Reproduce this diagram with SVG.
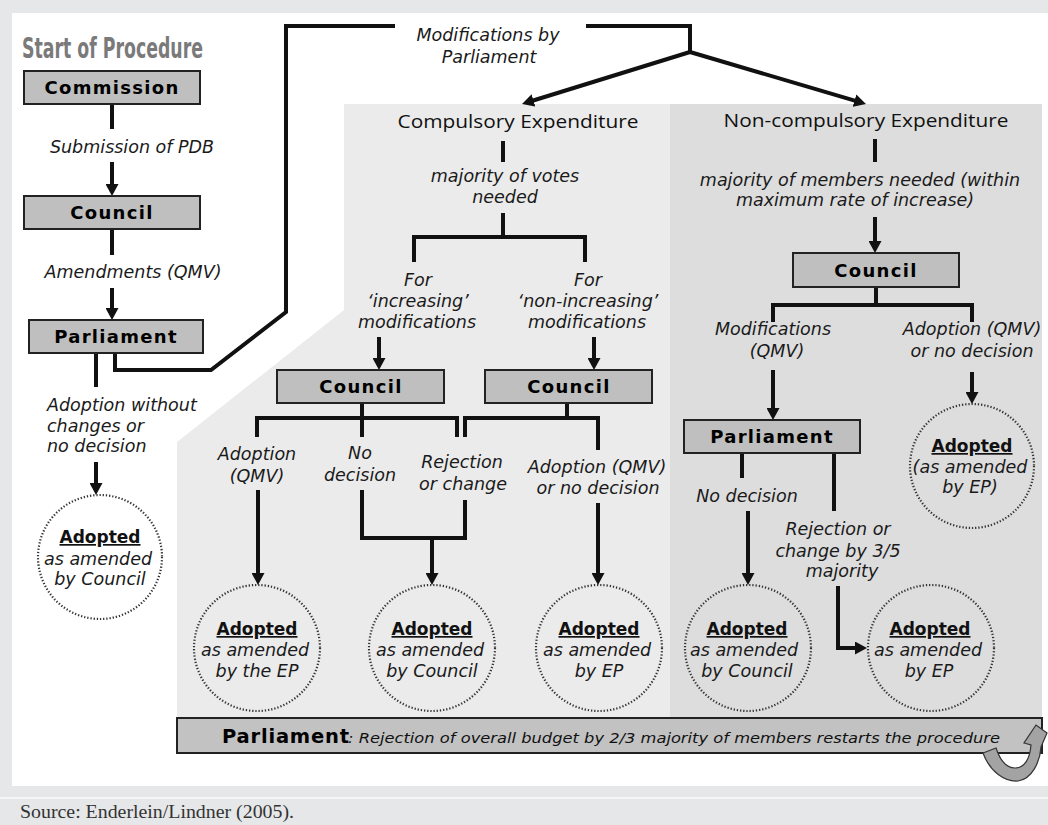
<svg xmlns="http://www.w3.org/2000/svg" width="1048" height="825" viewBox="0 0 1048 825">
<style>
.lbl{font-family:"DejaVu Sans",sans-serif;font-style:italic;font-size:17.5px;fill:#1a1a1a;text-anchor:middle}
.lbll{font-family:"DejaVu Sans",sans-serif;font-style:italic;font-size:17.5px;fill:#1a1a1a}
.box{fill:#bfbfbf;stroke:#222;stroke-width:2}
.bt{font-family:"DejaVu Sans",sans-serif;font-weight:bold;font-size:18px;letter-spacing:1.3px;text-anchor:middle;fill:#000}
.adp{font-family:"DejaVu Sans",sans-serif;font-weight:bold;font-size:17px;text-anchor:middle;fill:#111;text-decoration:underline}
.hd{font-family:"Open Sans","DejaVu Sans",sans-serif;font-size:19px;fill:#111;text-anchor:middle}
.circ{fill:none;stroke:#333;stroke-width:2.2;stroke-dasharray:1.3 1.9}
.ln{fill:none;stroke:#111;stroke-width:4}
.ar{fill:none;stroke:#111;stroke-width:4;marker-end:url(#ah)}
</style>
<defs>
<marker id="ah" viewBox="0 0 12 13" refX="2" refY="6.5" markerWidth="12" markerHeight="13" markerUnits="userSpaceOnUse" orient="auto"><path d="M0,0 L12,6.5 L0,13 z" fill="#111"/></marker>
</defs>

<!-- background -->
<rect x="0" y="0" width="1048" height="825" fill="#e6e7e9"/>
<rect x="12" y="13" width="1036" height="773" fill="#ffffff"/>
<rect x="0" y="797" width="1048" height="2" fill="#f5f5f6"/>
<polygon points="344,104 670,104 670,718 177,718 177,442 344,310" fill="#ebebeb"/>
<rect x="670" y="104" width="372" height="614" fill="#dddddd"/>

<text x="22" y="58" font-family="'Liberation Sans Narrow','DejaVu Sans Condensed','DejaVu Sans',sans-serif" font-weight="bold" font-size="28" fill="#7a7a7a" textLength="181" lengthAdjust="spacingAndGlyphs">Start of Procedure</text>

<!-- connectors -->
<g id="connectors">
<line class="ln" x1="112" y1="104" x2="112" y2="129"/>
<line class="ar" x1="112" y1="162" x2="112" y2="186"/>
<line class="ln" x1="112" y1="229" x2="112" y2="255"/>
<line class="ar" x1="112" y1="288" x2="112" y2="310"/>
<line class="ln" x1="96" y1="353" x2="96" y2="387"/>
<line class="ar" x1="96" y1="462" x2="96" y2="485"/>
<polyline class="ln" points="115,353 115,370 211,370 286,312 286,26 395,26"/>
<polyline class="ln" points="586,26 690,26 690,52"/>
<line class="ar" x1="690" y1="52" x2="531.6" y2="101"/>
<line class="ar" x1="690" y1="52" x2="856.4" y2="101.2"/>

<line class="ln" x1="503" y1="141" x2="503" y2="162"/>
<line class="ln" x1="503" y1="213" x2="503" y2="237"/>
<polyline class="ln" points="414,262 414,237 585,237 585,262"/>
<line class="ar" x1="379" y1="337" x2="379" y2="360"/>
<line class="ar" x1="594" y1="337" x2="594" y2="360"/>

<line class="ln" x1="362" y1="403" x2="362" y2="418"/>
<polyline class="ln" points="257,437 257,418 457,418 457,437"/>
<line class="ln" x1="362" y1="418" x2="362" y2="437"/>
<line class="ln" x1="567" y1="403" x2="567" y2="418"/>
<polyline class="ln" points="465,437 465,418 598,418 598,450"/>
<line class="ar" x1="258" y1="490" x2="258" y2="575"/>
<polyline class="ln" points="362,490 362,538 465,538 465,500"/>
<line class="ar" x1="432" y1="538" x2="432" y2="575"/>
<line class="ar" x1="598" y1="503" x2="598" y2="575"/>

<line class="ln" x1="875" y1="139" x2="875" y2="162"/>
<line class="ar" x1="875" y1="217" x2="875" y2="243"/>
<line class="ln" x1="876" y1="287" x2="876" y2="305"/>
<polyline class="ln" points="773,322 773,305 972,305 972,322"/>
<line class="ar" x1="773" y1="370" x2="773" y2="410"/>
<line class="ar" x1="972" y1="372" x2="972" y2="394"/>
<line class="ln" x1="742" y1="453" x2="742" y2="478"/>
<line class="ar" x1="748" y1="511" x2="748" y2="575"/>
<line class="ln" x1="834" y1="453" x2="834" y2="511"/>
<polyline class="ar" points="838,586 838,648 857,648"/>
</g>

<!-- left column nodes -->
<g id="commission"><rect class="box" x="24" y="71" width="176" height="33"/><text class="bt" x="112" y="94">Commission</text></g>
<g id="council1"><rect class="box" x="24" y="196" width="176" height="33"/><text class="bt" x="112" y="219">Council</text></g>
<g id="parliament1"><rect class="box" x="29" y="320" width="174" height="33"/><text class="bt" x="116" y="343">Parliament</text></g>

<g id="lbl-submission"><text class="lbl" x="132" y="153">Submission of PDB</text></g>
<g id="lbl-amend"><text class="lbl" x="133" y="278">Amendments (QMV)</text></g>
<g id="lbl-adoption-left"><text class="lbll" x="47" y="411">Adoption without</text><text class="lbll" x="47" y="432">changes or</text><text class="lbll" x="47" y="452">no decision</text></g>
<g id="lbl-mod"><text class="lbl" x="488" y="41">Modifications by</text><text class="lbl" x="489" y="63">Parliament</text></g>

<g id="adopted-left"><circle class="circ" cx="100" cy="557" r="62"/><text class="adp" x="100" y="543">Adopted</text><text class="lbl" x="98" y="565">as amended</text><text class="lbl" x="100" y="585">by Council</text></g>

<!-- compulsory -->
<g id="compulsory"><text class="hd" x="518" y="128" textLength="241" lengthAdjust="spacingAndGlyphs">Compulsory Expenditure</text></g>
<g id="lbl-votes"><text class="lbl" x="505" y="182">majority of votes</text><text class="lbl" x="505" y="203">needed</text></g>
<g id="lbl-inc"><text class="lbl" x="418" y="286">For</text><text class="lbl" x="418" y="307">‘increasing’</text><text class="lbl" x="417" y="328">modifications</text></g>
<g id="lbl-noninc"><text class="lbl" x="588" y="286">For</text><text class="lbl" x="588" y="307">‘non-increasing’</text><text class="lbl" x="587" y="328">modifications</text></g>
<g id="council2"><rect class="box" x="277" y="370" width="167" height="33"/><text class="bt" x="361" y="393">Council</text></g>
<g id="council3"><rect class="box" x="485" y="370" width="167" height="33"/><text class="bt" x="569" y="393">Council</text></g>
<g id="lbl-c2a"><text class="lbl" x="257" y="460">Adoption</text><text class="lbl" x="257" y="482">(QMV)</text></g>
<g id="lbl-c2b"><text class="lbl" x="360" y="459">No</text><text class="lbl" x="360" y="481">decision</text></g>
<g id="lbl-c2c"><text class="lbl" x="462" y="468">Rejection</text><text class="lbl" x="463" y="490">or change</text></g>
<g id="lbl-c3a"><text class="lbl" x="597" y="473">Adoption (QMV)</text><text class="lbl" x="598" y="494">or no decision</text></g>
<g id="adopted-1"><circle class="circ" cx="257" cy="648" r="63"/><text class="adp" x="257" y="635">Adopted</text><text class="lbl" x="255" y="656">as amended</text><text class="lbl" x="257" y="677">by the EP</text></g>
<g id="adopted-2"><circle class="circ" cx="432" cy="648" r="63"/><text class="adp" x="432" y="635">Adopted</text><text class="lbl" x="430" y="656">as amended</text><text class="lbl" x="432" y="677">by Council</text></g>
<g id="adopted-3"><circle class="circ" cx="599" cy="648" r="63"/><text class="adp" x="599" y="635">Adopted</text><text class="lbl" x="597" y="656">as amended</text><text class="lbl" x="599" y="677">by EP</text></g>

<!-- non-compulsory -->
<g id="noncompulsory"><text class="hd" x="866" y="127" textLength="285" lengthAdjust="spacingAndGlyphs">Non-compulsory Expenditure</text></g>
<g id="lbl-members"><text class="lbl" x="860" y="186">majority of members needed (within</text><text class="lbl" x="855" y="206">maximum rate of increase)</text></g>
<g id="council4"><rect class="box" x="793" y="253" width="166" height="34"/><text class="bt" x="876" y="277">Council</text></g>
<g id="lbl-c4a"><text class="lbl" x="773" y="335">Modifications</text><text class="lbl" x="777" y="357">(QMV)</text></g>
<g id="lbl-c4b"><text class="lbl" x="972" y="335">Adoption (QMV)</text><text class="lbl" x="972" y="357">or no decision</text></g>
<g id="adopted-tr"><circle class="circ" cx="972" cy="466" r="62"/><text class="adp" x="972" y="452">Adopted</text><text class="lbl" x="970" y="473">(as amended</text><text class="lbl" x="970" y="493">by EP)</text></g>
<g id="parliament2"><rect class="box" x="684" y="420" width="176" height="33"/><text class="bt" x="772" y="443">Parliament</text></g>
<g id="lbl-p2a"><text class="lbl" x="747" y="502">No decision</text></g>
<g id="lbl-p2b"><text class="lbl" x="838" y="535">Rejection or</text><text class="lbl" x="838" y="557">change by 3/5</text><text class="lbl" x="842" y="577">majority</text></g>
<g id="adopted-4"><circle class="circ" cx="748" cy="648" r="63"/><text class="adp" x="747" y="635">Adopted</text><text class="lbl" x="744" y="656">as amended</text><text class="lbl" x="747" y="677">by Council</text></g>
<g id="adopted-5"><circle class="circ" cx="931" cy="648" r="63"/><text class="adp" x="930" y="635">Adopted</text><text class="lbl" x="928" y="656">as amended</text><text class="lbl" x="929" y="677">by EP</text></g>

<!-- bottom bar -->
<g id="parliament-bar">
<rect x="177" y="718" width="865" height="35" fill="#c2c2c2" stroke="#222" stroke-width="2"/>
<text x="222" y="743" font-family="'DejaVu Sans',sans-serif" font-weight="bold" font-size="19.5" letter-spacing="0.8" fill="#000">Parliament</text>
<text x="348" y="743" font-family="'DejaVu Sans',sans-serif" font-style="italic" font-size="14.5" fill="#111" textLength="652" lengthAdjust="spacingAndGlyphs">: Rejection of overall budget by 2/3 majority of members restarts the procedure</text>
<path d="M983,753 C990,772 1005,782 1018,781 C1032,779 1040,762 1041,747 L1047,733 L1036,725 L1024,743 L1031,745 C1030,758 1025,768 1015,768 C1006,768 1000,760 996,748 Z" fill="#a3a3a3" stroke="#333" stroke-width="1.2"/>
</g>

<text x="20" y="818" font-family="'Liberation Serif',serif" font-size="18.5" fill="#333" textLength="274" lengthAdjust="spacingAndGlyphs">Source: Enderlein/Lindner (2005).</text>
</svg>
